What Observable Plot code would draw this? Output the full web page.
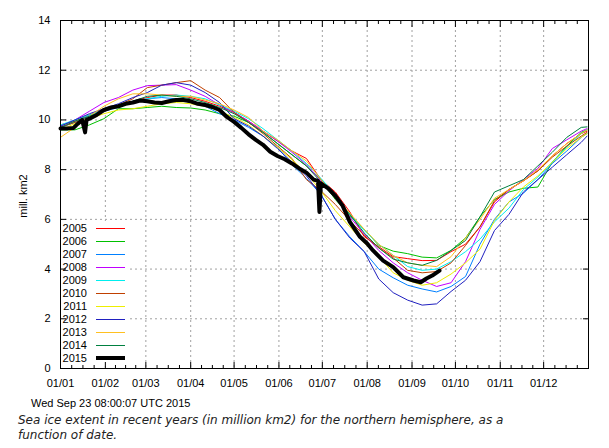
<!DOCTYPE html>
<html><head><meta charset="utf-8">
<script src="https://cdn.jsdelivr.net/npm/d3@7"></script>
<script src="https://cdn.jsdelivr.net/npm/@observablehq/plot@0.6"></script>
<style>
body{margin:0;background:#fff;width:609px;height:448px;overflow:hidden;}
#caption{font-family:"DejaVu Sans",Verdana,sans-serif;font-style:italic;font-size:12px;line-height:15px;color:#222;margin:3px 0 0 18px;white-space:nowrap;}
</style></head><body>
<div id="chart"></div>
<div id="caption">Sea ice extent in recent years (in million km2) for the northern hemisphere, as a<br>function of date.</div>
<script>
// day-of-year sample positions for 2005-2014
const days = [0,10,20,30,40,50,60,70,80,90,100,110,120,130,140,150,160,170,180,190,200,210,220,230,240,250,260,270,280,290,300,310,320,330,340,350,360,364];
const y2005 = [9.8,9.95,10.2,10.4,10.55,10.75,10.9,11.0,11.0,10.9,10.75,10.55,10.3,9.95,9.55,9.15,8.75,8.45,7.6,7.1,6.3,5.3,4.9,4.5,4.42,4.34,4.35,4.7,5.0,5.7,6.7,7.2,7.55,7.95,8.55,9.05,9.45,9.55];
const y2006 = [9.6,9.6,9.8,10.05,10.45,10.45,10.5,10.55,10.5,10.48,10.4,10.25,10.15,9.9,9.5,9.05,8.6,8.15,7.6,6.8,6.15,5.6,4.95,4.72,4.62,4.48,4.45,4.75,5.25,6.1,6.8,7.1,7.25,7.3,8.3,8.95,9.5,9.6];
const y2007 = [9.7,9.9,10.15,10.35,10.5,10.75,10.85,10.9,10.85,10.7,10.55,10.25,10.0,9.7,9.35,8.9,8.2,7.65,7.0,6.0,5.3,4.7,4.0,3.65,3.35,3.2,3.08,3.3,3.7,5.0,6.0,6.7,7.05,7.6,8.25,8.75,9.3,9.45];
const y2008 = [9.75,10.0,10.35,10.7,10.9,11.2,11.38,11.4,11.42,11.2,10.95,10.6,10.3,9.95,9.55,9.15,8.7,8.2,7.55,6.9,6.1,5.4,4.75,4.25,3.85,3.55,3.3,3.45,4.3,5.6,6.6,7.15,7.6,8.05,8.85,9.2,9.55,9.65];
const y2009 = [9.8,10.0,10.2,10.4,10.6,10.75,10.85,10.95,11.0,10.95,10.85,10.6,10.35,10.05,9.65,9.2,8.75,8.25,7.65,7.0,6.2,5.55,5.0,4.55,4.1,3.95,4.0,4.3,4.7,5.2,5.9,6.45,7.2,7.7,8.3,8.9,9.45,9.6];
const y2010 = [9.7,9.9,10.1,10.35,10.6,10.85,11.3,11.4,11.5,11.58,11.2,10.9,10.3,9.9,9.45,8.95,8.45,7.6,7.15,6.6,5.95,5.35,4.85,4.45,3.95,3.85,3.9,4.25,4.95,5.7,6.75,7.2,7.55,7.95,8.5,8.95,9.35,9.5];
const y2011 = [9.6,9.85,10.05,10.25,10.4,10.45,10.55,10.65,10.7,10.65,10.55,10.35,10.1,9.8,9.35,8.9,8.4,7.85,7.15,6.35,5.7,5.05,4.5,3.85,3.55,3.35,3.45,3.8,4.25,4.8,5.95,6.7,7.3,7.75,8.3,8.85,9.3,9.45];
const y2012 = [9.75,10.0,10.25,10.45,10.65,10.9,11.1,11.4,11.5,11.4,11.1,10.7,10.05,9.75,9.35,8.85,8.3,7.75,7.0,6.0,5.25,4.7,3.6,3.05,2.75,2.55,2.6,3.1,3.55,4.3,5.55,6.2,7.1,7.6,8.1,8.6,9.1,9.35];
const y2013 = [9.3,9.7,10.15,10.55,10.85,11.05,11.05,11.0,10.95,10.95,10.8,10.65,10.4,10.1,9.55,9.2,8.75,8.35,7.6,6.9,6.25,5.6,5.0,4.55,4.25,4.15,4.1,4.5,5.25,6.0,6.85,7.2,7.55,8.0,8.55,9.05,9.45,9.6];
const y2014 = [9.7,9.95,10.15,10.35,10.55,10.75,10.95,11.0,10.95,10.85,10.7,10.5,10.25,9.9,9.5,9.05,8.6,8.15,7.5,6.85,6.2,5.45,4.85,4.4,4.25,4.15,4.35,4.75,5.15,6.1,7.1,7.35,7.6,8.15,8.7,9.3,9.7,9.72];
// 2015 (bold black), its own day positions
const days2015 = [0,5,9,12,15,17,18,20,25,30,35,40,45,50,55,60,65,70,75,80,85,90,95,100,105,110,115,120,125,130,135,140,145,150,155,160,165,170,175,178,179,180,185,190,195,200,207,212,216,223,230,237,244,249,253,257,262];
const y2015 = [9.66,9.66,9.68,9.85,10.0,9.5,10.0,10.05,10.2,10.4,10.5,10.55,10.65,10.7,10.78,10.75,10.7,10.68,10.75,10.8,10.8,10.75,10.65,10.6,10.52,10.4,10.12,9.92,9.68,9.42,9.2,9.0,8.72,8.55,8.42,8.25,8.05,7.88,7.6,7.55,6.3,7.45,7.25,6.95,6.55,5.9,5.3,5.03,4.75,4.34,4.08,3.67,3.54,3.47,3.62,3.74,3.94];

const years = ["2005","2006","2007","2008","2009","2010","2011","2012","2013","2014","2015"];
const colors = ["#ff0000","#00c000","#0080ff","#c000ff","#00eeee","#c04000","#eeee00","#2020c0","#ffc020","#008040","#000000"];
const monthStarts = [0,31,59,90,120,151,181,212,243,273,304,334];
const monthLabels = ["01/01","01/02","01/03","01/04","01/05","01/06","01/07","01/08","01/09","01/10","01/11","01/12"];
const yTicks = [0,2,4,6,8,10,12,14];
const stamp = "Wed Sep 23 08:00:07 UTC 2015";
const yTitle = "mill. km2";

const series = [y2005,y2006,y2007,y2008,y2009,y2010,y2011,y2012,y2013,y2014];
const table = series.flatMap((vals, i) => vals.map((v, j) => ({year: years[i], day: days[j], value: v})));
const t2015 = y2015.map((v, j) => ({year: "2015", day: days2015[j], value: v}));
const labelMap = new Map(monthStarts.map((d, i) => [d, monthLabels[i]]));
const ends = [...monthStarts, 365];
const minor = monthStarts.flatMap((s, i) => [1,2,3].map(k => s + (ends[i+1] - s) * k / 4));
const FONT = "'Liberation Sans', Arial, sans-serif";

function overlay() {
  const g = d3.create("svg:g").attr("font-family", FONT).attr("font-size", 11).attr("fill", "#000");
  g.append("rect").attr("x", 61).attr("y", 221).attr("width", 69).attr("height", 145).attr("fill", "#fff");
  years.forEach((yr, i) => {
    const cy = 228 + 13 * i;
    g.append("text").attr("x", 87).attr("y", cy).attr("dy", "0.35em").attr("text-anchor", "end").text(yr);
    const w = yr === "2015" ? 4 : 1;
    g.append("line").attr("x1", 96).attr("x2", 125).attr("y1", cy + (w === 1 ? 0.5 : 0)).attr("y2", cy + (w === 1 ? 0.5 : 0))
      .attr("stroke", colors[i]).attr("stroke-width", w);
  });
  g.append("text").attr("transform", "translate(23,196) rotate(-90)").attr("text-anchor", "middle").attr("dy", "0.35em").text(yTitle);
  g.append("text").attr("x", 31).attr("y", 403).attr("dy", "0.35em").attr("text-anchor", "start").text(stamp);
  return g.node();
}

const chart = Plot.plot({
  width: 609, height: 410,
  marginTop: 20, marginBottom: 42, marginLeft: 60, marginRight: 21,
  x: {domain: [0, 365], label: null},
  y: {domain: [0, 14], label: null},
  color: {domain: years, range: colors},
  style: {fontFamily: FONT, fontSize: "11px", color: "#000", background: "#fff", overflow: "visible"},
  marks: [
    Plot.gridX(monthStarts.slice(1), {stroke: "#a0a0a0", strokeOpacity: 1, strokeDasharray: "2,3"}),
    Plot.gridY(yTicks.slice(1, -1), {stroke: "#a0a0a0", strokeOpacity: 1, strokeDasharray: "2,3"}),
    Plot.line(table, {x: "day", y: "value", z: "year", stroke: "year", strokeWidth: 1}),
    Plot.line(t2015, {x: "day", y: "value", stroke: "#000", strokeWidth: 4}),
    overlay,
    Plot.frame({stroke: "#000"}),
    Plot.axisX(monthStarts, {anchor: "bottom", tickSize: -6, tickPadding: 17, tickFormat: d => labelMap.get(d), label: null}),
    Plot.axisX(minor, {anchor: "bottom", tickSize: -3, tickFormat: () => "", label: null}),
    Plot.axisX(monthStarts, {anchor: "top", tickSize: -6, tickFormat: () => "", label: null}),
    Plot.axisX(minor, {anchor: "top", tickSize: -3, tickFormat: () => "", label: null}),
    Plot.axisY(yTicks, {anchor: "left", tickSize: -6, tickPadding: 16, label: null}),
    Plot.axisY(yTicks, {anchor: "right", tickSize: -6, tickFormat: () => "", label: null})
  ]
});
document.getElementById("chart").append(chart);
</script>
</body></html>
